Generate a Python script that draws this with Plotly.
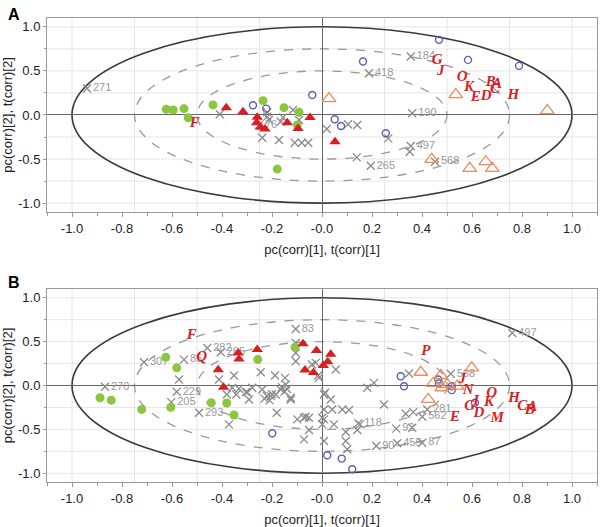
import plotly.graph_objects as go

# ---------------- panel A ----------------
a_green_x = [-0.623, -0.595, -0.552, -0.535, -0.436, -0.236, -0.152, -0.092, -0.179, -0.099]
a_green_y = [0.065, 0.057, 0.072, -0.031, 0.114, 0.162, 0.083, 0.031, -0.614, -0.114]

a_red_x = [-0.383, -0.316, -0.259, -0.261, -0.228, -0.245, -0.139, -0.096, -0.048, 0.052]
a_red_y = [0.083, 0.038, -0.027, -0.087, -0.159, -0.140, -0.087, -0.152, -0.030, -0.303]

a_blue_x = [-0.276, -0.223, -0.039, 0.051, 0.076, 0.468, 0.164, 0.584, 0.788, 0.255]
a_blue_y = [0.110, 0.072, 0.227, -0.049, -0.125, 0.852, 0.606, 0.625, 0.557, -0.208]

a_orange_x = [0.028, 0.535, 0.901, 0.439, 0.591, 0.655, 0.681]
a_orange_y = [0.185, 0.231, 0.049, -0.504, -0.606, -0.530, -0.606]

a_var_x = [-0.94, 0.355, 0.188, 0.361, 0.355, 0.195, 0.452, -0.252,
           -0.409, -0.219, -0.219, -0.212, -0.239, -0.172, -0.109, -0.081, -0.055,
           -0.156, -0.165, -0.116, -0.092, 0.019, 0.104, 0.141, 0.139, 0.351, 0.265]
a_var_y = [0.30, 0.663, 0.473, 0.019, -0.352, -0.576, -0.530, -0.114,
           0.008, 0.030, -0.019, -0.057, -0.258, -0.284, -0.315, -0.315, -0.315,
           -0.027, -0.076, 0.057, -0.057, -0.159, -0.106, -0.114, -0.481, -0.417, -0.265]
a_var_lab = ["271", "184", "418", "190", "497", "265", "568", "76"] + [""] * 19

a_let_x = [-0.509, 0.461, 0.475, 0.561, 0.588, 0.615, 0.657, 0.675, 0.700, 0.692, 0.765]
a_let_y = [-0.095, 0.625, 0.492, 0.424, 0.315, 0.201, 0.208, 0.367, 0.345, 0.292, 0.220]
a_let = ["F", "G", "J", "O", "K", "E", "D", "B", "A", "C", "H"]

# ---------------- panel B ----------------
b_green_x = [-0.888, -0.843, -0.721, -0.605, -0.443, -0.381, -0.352, -0.625, -0.581, -0.257, -0.108]
b_green_y = [-0.140, -0.167, -0.273, -0.250, -0.197, -0.200, -0.337, 0.322, 0.201, 0.295, 0.435]

b_red_x = [-0.415, -0.394, -0.335, -0.332, -0.259, -0.076, -0.022, 0.035, 0.023, -0.068, -0.034, 0.005]
b_red_y = [0.180, -0.020, 0.371, 0.303, 0.409, 0.477, 0.400, 0.356, 0.270, 0.176, 0.148, 0.227]

b_blue_x = [-0.199, 0.021, 0.079, 0.121, 0.328, 0.315, 0.465, 0.468, 0.519, 0.519, 0.612]
b_blue_y = [-0.545, -0.795, -0.833, -0.955, -0.008, 0.106, 0.068, 0.023, -0.008, -0.053, -0.197]

b_orange_x = [0.395, 0.475, 0.599, 0.444, 0.479, 0.501, 0.541, 0.425]
b_orange_y = [0.151, 0.114, 0.201, 0.023, -0.026, 0.011, -0.008, -0.159]

b_var_x = [-0.712, -0.552, -0.459, -0.405, -0.105, -0.868, -0.581, -0.603, -0.492, 0.761, 0.515,
           0.421, 0.401, 0.145, 0.297, 0.217, 0.301, 0.401,
           -0.105, -0.105, -0.105, -0.025, -0.040, 0.055, -0.015, -0.572, -0.412, -0.352, -0.245,
           -0.188, -0.148, -0.332, -0.299, -0.343, -0.239, -0.220, -0.200, -0.230, -0.210, -0.160,
           -0.140, -0.150, -0.125, -0.065, -0.372, -0.381, -0.305, -0.292, -0.181, -0.099, -0.052,
           -0.052, -0.072, 0.012, 0.035, 0.041, 0.008, 0.008, 0.048, 0.108, 0.095, 0.095, 0.101,
           0.008, -0.012, 0.181, 0.208, 0.248, 0.152, 0.141, 0.335, 0.365, 0.348, 0.361, 0.008,
           -0.072, 0.001, 0.081, 0.001, -0.359, -0.279, -0.205, -0.185, -0.165, -0.145, -0.125]
b_var_y = [0.265, 0.295, 0.428, 0.379, 0.644, -0.015, -0.072, -0.190, -0.311, 0.599, 0.133,
           -0.273, -0.356, -0.432, -0.492, -0.689, -0.659, -0.652,
           0.485, 0.371, 0.276, 0.258, 0.240, 0.182, 0.114, 0.068, 0.068, 0.114, 0.151,
           0.114, 0.087, -0.038, -0.076, -0.102, -0.045, -0.120, -0.100, -0.150, -0.170, -0.020,
           -0.040, -0.070, -0.159, -0.356, -0.443, -0.102, -0.076, -0.159, -0.311, -0.386, -0.367,
           -0.508, -0.614, -0.083, -0.159, -0.273, -0.273, -0.386, -0.443, -0.280, -0.530, -0.633, -0.727,
           -0.633, 0.087, -0.026, 0.030, -0.216, -0.443, -0.508, -0.322, -0.304, 0.136, -0.481, -0.102,
           -0.367, -0.443, -0.273, -0.367, -0.026, -0.026, -0.121, -0.102, -0.045, 0.011, -0.140]
b_var_lab = ["307", "85", "282", "265", "83", "270", "229", "205", "293", "497", "568",
             "281", "562", "118", "92", "90", "455", "87"] + [""] * 68

b_let_x = [-0.521, -0.481, 0.415, 0.561, 0.585, 0.679, 0.768, 0.591, 0.617, 0.668, 0.628,
           0.801, 0.831, 0.841, 0.532, 0.701]
b_let_y = [0.568, 0.326, 0.390, 0.068, -0.053, -0.083, -0.140, -0.242, -0.178, -0.189, -0.318,
           -0.235, -0.284, -0.253, -0.367, -0.379]
b_let = ["F", "Q", "P", "J", "N", "O", "H", "G", "I", "K", "D", "C", "B", "A", "E", "M"]

x_ticks = [-1.0, -0.8, -0.6, -0.4, -0.2, 0.0, 0.2, 0.4, 0.6, 0.8, 1.0]
x_tick_text = ["-1.0", "-0.8", "-0.6", "-0.4", "-0.2", "-0.0", "0.2", "0.4", "0.6", "0.8", "1.0"]
y_ticks = [1.0, 0.5, 0.0, -0.5, -1.0]
y_tick_text = ["1.0", "0.5", "0.0", "-0.5", "-1.0"]
grid_vals = [-1.0, -0.75, -0.5, -0.25, 0.25, 0.5, 0.75, 1.0]

GREEN = "#8cc63f"
RED = "#d91e23"
BLUE = "#5a5eb6"
ORANGE = "#ea8c5b"
GRAY = "#8a8a8a"

fig = go.Figure()


def add_panel(xa, ya, gx, gy, rx, ry, bx, by, ox, oy, vx, vy, vlab, lx, ly, lt):
    fig.add_trace(go.Scatter(x=vx, y=vy, mode="markers+text", text=vlab,
                             textposition="middle right",
                             textfont=dict(size=11, color="#999999", family="Liberation Sans"),
                             marker=dict(symbol="x-thin-open", size=8, color=GRAY,
                                         line=dict(width=1.3, color=GRAY)),
                             xaxis=xa, yaxis=ya, showlegend=False))
    fig.add_trace(go.Scatter(x=gx, y=gy, mode="markers",
                             marker=dict(symbol="circle", size=9, color=GREEN),
                             xaxis=xa, yaxis=ya, showlegend=False))
    fig.add_trace(go.Scatter(x=rx, y=ry, mode="markers",
                             marker=dict(symbol="triangle-up", size=10, color=RED),
                             xaxis=xa, yaxis=ya, showlegend=False))
    fig.add_trace(go.Scatter(x=bx, y=by, mode="markers",
                             marker=dict(symbol="circle-open", size=7, color=BLUE,
                                         line=dict(width=1.4, color=BLUE)),
                             xaxis=xa, yaxis=ya, showlegend=False))
    fig.add_trace(go.Scatter(x=ox, y=oy, mode="markers",
                             marker=dict(symbol="triangle-up-open", size=12, color=ORANGE,
                                         line=dict(width=1.3, color=ORANGE)),
                             xaxis=xa, yaxis=ya, showlegend=False))
    fig.add_trace(go.Scatter(x=lx, y=ly, mode="text", text=lt, textposition="middle center",
                             textfont=dict(size=15, color=RED, family="Liberation Serif",
                                           style="italic", weight="bold"),
                             xaxis=xa, yaxis=ya, showlegend=False))


add_panel("x", "y", a_green_x, a_green_y, a_red_x, a_red_y, a_blue_x, a_blue_y,
          a_orange_x, a_orange_y, a_var_x, a_var_y, a_var_lab, a_let_x, a_let_y, a_let)
add_panel("x2", "y2", b_green_x, b_green_y, b_red_x, b_red_y, b_blue_x, b_blue_y,
          b_orange_x, b_orange_y, b_var_x, b_var_y, b_var_lab, b_let_x, b_let_y, b_let)

# grid lines, ellipses
shapes = []
for xr, yr in [("x", "y"), ("x2", "y2")]:
    for g in grid_vals:
        shapes.append(dict(type="line", xref=xr, yref=yr, x0=g, x1=g, y0=-1.1, y1=1.1,
                           line=dict(color="#e6e6e6", width=1), layer="below"))
        shapes.append(dict(type="line", xref=xr, yref=yr, x0=-1.1, x1=1.1, y0=g, y1=g,
                           line=dict(color="#e6e6e6", width=1), layer="below"))
    for r, dash, col, w in [(1.0, "solid", "#3a3a3a", 1.6), (0.75, "dash", "#9a9a9a", 1.3),
                            (0.5, "dash", "#9a9a9a", 1.3)]:
        shapes.append(dict(type="circle", xref=xr, yref=yr, x0=-r, x1=r, y0=-r, y1=r,
                           line=dict(color=col, width=w, dash=dash), layer="below"))

font = dict(family="Liberation Sans, Arial", size=13, color="#222222")


def xaxis(domain_anchor):
    return dict(range=[-1.1, 1.1], tickmode="array", tickvals=x_ticks, ticktext=x_tick_text,
                ticks="outside", ticklen=4, tickcolor="#999999", showgrid=False,
                zeroline=True, zerolinecolor="#666666", zerolinewidth=1,
                showline=True, mirror=True, linecolor="#9a9a9a", linewidth=1,
                minor=dict(tickmode="linear", tick0=0, dtick=0.1, ticks="outside", ticklen=3,
                           tickcolor="#999999", showgrid=False),
                tickfont=font, anchor=domain_anchor, automargin=False,
                title=dict(text="pc(corr)[1], t(corr)[1]", font=font, standoff=10))


def yaxis(domain, anchor):
    return dict(range=[-1.1, 1.1], domain=domain, tickmode="array", tickvals=y_ticks,
                ticktext=y_tick_text, ticks="outside", ticklen=3, tickcolor="#999999",
                showgrid=False, zeroline=True, zerolinecolor="#666666", zerolinewidth=1,
                showline=True, mirror=True, linecolor="#9a9a9a", linewidth=1,
                minor=dict(tickmode="linear", tick0=0, dtick=0.25, ticks="outside", ticklen=2,
                           tickcolor="#999999", showgrid=False),
                tickfont=font, anchor=anchor, automargin=False,
                title=dict(text="pc(corr)[2], t(corr)[2]", font=font, standoff=4))


fig.update_layout(
    width=600, height=527,
    margin=dict(l=47, r=3, t=18, b=45),
    paper_bgcolor="white", plot_bgcolor="white",
    xaxis=xaxis("y"), yaxis=yaxis([0.582, 1.0], "x"),
    xaxis2=xaxis("y2"), yaxis2=yaxis([0.0, 0.416], "x2"),
    shapes=shapes,
    annotations=[
        dict(text="<b>A</b>", xref="paper", yref="paper", x=-0.075, y=1.03, xanchor="left",
             yanchor="top", showarrow=False, font=dict(family="Liberation Sans, Arial", size=16, color="black")),
        dict(text="<b>B</b>", xref="paper", yref="paper", x=-0.075, y=0.452, xanchor="left",
             yanchor="top", showarrow=False, font=dict(family="Liberation Sans, Arial", size=16, color="black")),
    ],
)

fig.write_html("out.html", config={"displayModeBar": False},
               post_script="document.body.style.margin='0';")
